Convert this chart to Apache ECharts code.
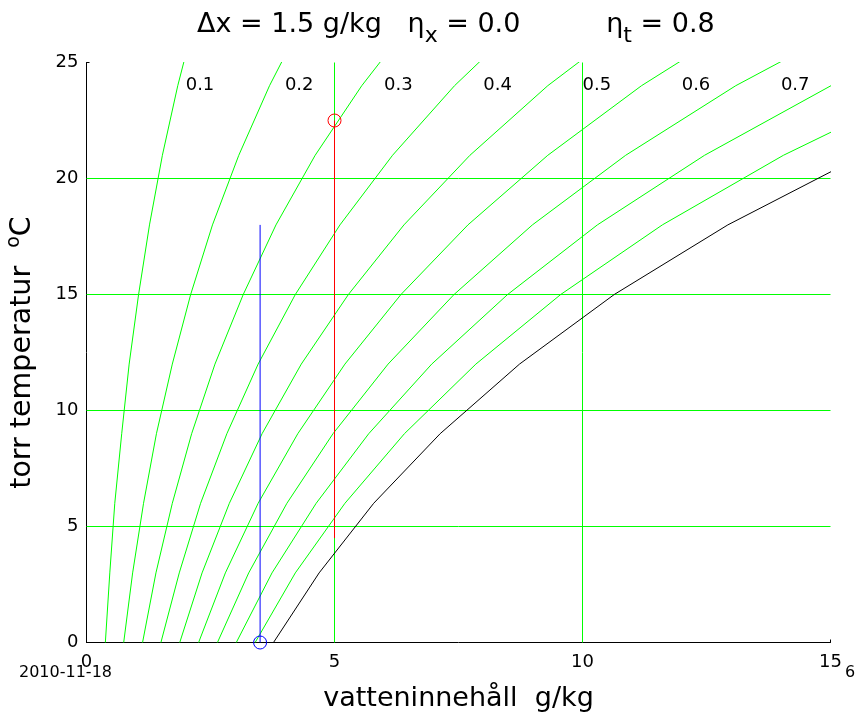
<!DOCTYPE html>
<html>
<head>
<meta charset="utf-8">
<script src="https://cdn.jsdelivr.net/npm/echarts@6/dist/echarts.min.js"></script>
<style>
  html, body { margin: 0; padding: 0; background: #fff; }
  #chart { width: 867px; height: 718px; }
</style>
</head>
<body>
<div id="chart"></div>
<script>
// dry-bulb temperature (degC) at which each curve is sampled
const temps = [0, 3, 6, 9, 12, 15, 18, 21, 24, 27];

// moisture content g/kg on each relative humidity curve
const x01 = [0.38, 0.47, 0.57, 0.71, 0.86, 1.05, 1.27, 1.53, 1.84, 2.20];
const x02 = [0.75, 0.93, 1.15, 1.41, 1.73, 2.10, 2.54, 3.07, 3.69, 4.41];
const x03 = [1.13, 1.40, 1.73, 2.12, 2.59, 3.16, 3.82, 4.61, 5.55, 6.64];
const x04 = [1.50, 1.87, 2.30, 2.83, 3.46, 4.21, 5.11, 6.17, 7.42, 8.89];
const x05 = [1.88, 2.33, 2.88, 3.54, 4.33, 5.28, 6.40, 7.73, 9.30, 11.15];
const x06 = [2.26, 2.80, 3.46, 4.26, 5.21, 6.34, 7.69, 9.30, 11.19, 13.42];
const x07 = [2.64, 3.27, 4.04, 4.97, 6.08, 7.41, 8.99, 10.87, 13.09, 15.72];
const x08 = [3.02, 3.74, 4.63, 5.69, 6.96, 8.49, 10.30, 12.46, 15.01, 18.03];
const x09 = [3.40, 4.21, 5.21, 6.41, 7.85, 9.56, 11.61, 14.05, 16.94, 20.36];
const xSat = [3.77, 4.69, 5.79, 7.13, 8.73, 10.64, 12.93, 15.65, 18.88, 22.70];

// curve labels along the top
const labelText = ['0.1', '0.2', '0.3', '0.4', '0.5', '0.6', '0.7'];
const labelX = [2, 4, 6, 8, 10, 12, 14];
const labelT = 24;

// process: outdoor point (blue) and supply point (red)
const blueX = 3.5;
const blueT = [0, 18];
const redX = 5;
const redT = [22.5, 4.5];

// green reference lines inside the plot
const xGrid = [5, 10];
const yGrid = [5, 10, 15, 20];

const FONT = 'DejaVu Sans, Verdana, sans-serif';

const chart = echarts.init(document.getElementById('chart'), null, { renderer: 'canvas' });

const greenCurves = [x01, x02, x03, x04, x05, x06, x07, x08, x09];

const series = [];

// grid lines drawn as mark lines so they sit under the curves
series.push({
  type: 'line',
  data: [],
  z: 1,
  markLine: {
    z: 1,
    silent: true,
    symbol: ['none', 'none'],
    label: { show: false },
    lineStyle: { color: '#00ff00', type: 'solid', width: 1, opacity: 1 },
    emphasis: { disabled: true },
    data: xGrid.map((v) => ({ xAxis: v })).concat(yGrid.map((v) => ({ yAxis: v })))
  }
});

greenCurves.forEach((xs) => {
  series.push({
    type: 'line',
    data: xs.map((x, i) => [x, temps[i]]),
    showSymbol: false,
    clip: true,
    lineStyle: { color: '#00ff00', width: 1 },
    z: 2
  });
});

series.push({
  type: 'line',
  data: xSat.map((x, i) => [x, temps[i]]),
  showSymbol: false,
  clip: true,
  lineStyle: { color: '#000000', width: 1 },
  z: 3
});

series.push({
  type: 'line',
  data: blueT.map((t) => [blueX, t]),
  showSymbol: false,
  lineStyle: { color: '#0000ff', width: 1 },
  z: 6
});

series.push({
  type: 'line',
  data: redT.map((t) => [redX, t]),
  showSymbol: false,
  lineStyle: { color: '#ff0000', width: 1 },
  z: 6
});

series.push({
  type: 'scatter',
  clip: false,
  symbol: 'circle',
  symbolSize: 13,
  itemStyle: { color: 'rgba(0,0,0,0)', borderColor: '#0000ff', borderWidth: 1, opacity: 1 },
  data: [[blueX, blueT[0]]],
  z: 7
});

series.push({
  type: 'scatter',
  clip: false,
  symbol: 'circle',
  symbolSize: 13,
  itemStyle: { color: 'rgba(0,0,0,0)', borderColor: '#ff0000', borderWidth: 1, opacity: 1 },
  data: [[redX, redT[0]]],
  z: 7
});

series.push({
  type: 'scatter',
  symbolSize: 0,
  itemStyle: { opacity: 1 },
  data: labelX.map((x, i) => [x, labelT, labelText[i]]),
  label: {
    show: true,
    position: 'right',
    distance: 0,
    formatter: (p) => p.data[2],
    color: '#000',
    fontSize: 18,
    fontFamily: FONT
  },
  z: 8
});

chart.setOption({
  animation: false,
  backgroundColor: '#ffffff',
  title: {
    left: 192,
    top: 6,
    text: '{m|\u0394x = 1.5 g/kg   \u03b7}{sub|x}{m| = 0.0          \u03b7}{sub|t}{m| = 0.8}',
    textStyle: {
      rich: {
        m: { fontSize: 27, fontFamily: FONT, fontWeight: 'normal', color: '#000', lineHeight: 30, verticalAlign: 'top' },
        sub: { fontSize: 22, fontFamily: FONT, fontWeight: 'normal', color: '#000', lineHeight: 22, padding: [14, 0, 0, 0], verticalAlign: 'top' }
      }
    }
  },
  // half-pixel edges keep the 1px grid lines crisp
  grid: { left: 86.5, right: 36.5, top: 62.5, bottom: 75.5, containLabel: false, outerBoundsMode: 'none' },
  xAxis: {
    type: 'value',
    min: 0,
    max: 15,
    interval: 5,
    name: 'vatteninnehåll  g/kg',
    nameLocation: 'middle',
    nameGap: 43,
    nameTextStyle: { fontSize: 27, fontFamily: FONT, color: '#000' },
    axisLine: { show: true, lineStyle: { color: '#000', width: 1 } },
    axisTick: { show: true, inside: true, length: 3, lineStyle: { color: '#000' } },
    axisLabel: { fontSize: 18, fontFamily: FONT, color: '#000', margin: 11 },
    splitLine: { show: false }
  },
  yAxis: {
    type: 'value',
    min: 0,
    max: 25,
    interval: 5,
    name: '{m|torr temperatur  }{sup|o}{m|C}',
    nameLocation: 'middle',
    nameGap: 49,
    nameTextStyle: {
      rich: {
        m: { fontSize: 28.5, fontFamily: FONT, color: '#000', lineHeight: 33, verticalAlign: 'bottom' },
        sup: { fontSize: 19, fontFamily: FONT, color: '#000', lineHeight: 20, verticalAlign: 'top' }
      }
    },
    axisLine: { show: true, lineStyle: { color: '#000', width: 1 } },
    axisTick: { show: true, inside: true, length: 3, lineStyle: { color: '#000' } },
    axisLabel: { fontSize: 18, fontFamily: FONT, color: '#000', margin: 8 },
    splitLine: { show: false }
  },
  graphic: [
    { type: 'text', left: 19, top: 665, style: { text: '2010-11-18', fontSize: 16, fontFamily: FONT, fill: '#000' } },
    { type: 'text', left: 845, top: 665, style: { text: '6', fontSize: 16, fontFamily: FONT, fill: '#000' } }
  ],
  series
});
</script>
</body>
</html>
